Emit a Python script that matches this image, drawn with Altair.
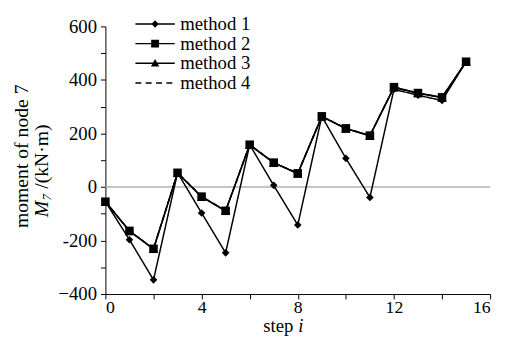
import altair as alt
import pandas as pd

steps = list(range(16))
methods = ["method 1", "method 2", "method 3", "method 4"]
m1 = [-55, -197, -347, 53, -97, -246, 158, 6, -142, 264, 107, -39, 365, 343, 323, 468]
m2 = [-55, -164, -231, 53, -36, -89, 158, 91, 51, 264, 219, 192, 373, 351, 335, 468]
m3 = [-55, -165, -232, 52, -37, -90, 157, 90, 50, 263, 218, 191, 372, 350, 334, 467]
m4 = [-55, -164, -231, 53, -36, -89, 158, 91, 51, 264, 219, 192, 373, 351, 335, 468]
series = [m1, m2, m3, m4]

y_ticks = [-400, -300, -200, -100, 0, 100, 200, 300, 400, 500, 600]
y_labels = ["\u2212400", "", "-200", "", "0", "", "200", "", "400", "", "600"]
x_ticks = [0, 2, 4, 6, 8, 10, 12, 14, 16]
x_labels = ["0", "", "4", "", "8", "", "12", "", "16"]

ytitle1 = "moment of node 7"
ytitle_m = "M"
ytitle_sub = "7"
ytitle_unit = "/(kN\u00b7m)"
xtitle_a = "step"
xtitle_b = "i"

FONT = "Liberation Serif"

rows = []
for name, vals in zip(methods, series):
    for s, v in zip(steps, vals):
        rows.append({"method": name, "step": s, "value": v})
df = pd.DataFrame(rows)


def label_expr(vals, labs):
    parts = " : ".join(f"datum.value == {v} ? '{l}'" for v, l in zip(vals, labs))
    return parts + " : ''"


xscale = alt.Scale(domain=[0, 16], nice=False)
yscale = alt.Scale(domain=[-400, 600], nice=False)

axis_style = dict(grid=False, tickSize=5, labelFont=FONT, labelColor="black",
                  domainColor="black", tickColor="black", title=None)
xaxis = alt.Axis(values=x_ticks, labelExpr=label_expr(x_ticks, x_labels), labelPadding=0,
                 labelFontSize=18, **axis_style)
yaxis = alt.Axis(values=y_ticks, labelExpr=label_expr(y_ticks, y_labels), labelPadding=4,
                 labelFontSize=19, **axis_style)

base = alt.Chart(df)

zero = alt.Chart(pd.DataFrame({"y": [0]})).mark_rule(color="#b0b0b0", strokeWidth=1.5).encode(
    y=alt.Y("y:Q", scale=yscale, axis=yaxis)
)

lines = base.mark_line(color="black", strokeWidth=1.5).encode(
    x=alt.X("step:Q", scale=xscale, axis=xaxis),
    y=alt.Y("value:Q", scale=yscale, axis=yaxis),
    detail="method:N",
    strokeDash=alt.StrokeDash("method:N", scale=alt.Scale(domain=methods,
                              range=[[1, 0], [1, 0], [1, 0], [5, 4]]), legend=None),
    order=alt.Order("step:Q"),
)

pts = base.transform_filter("datum.method != 'method 4'").mark_point(
    filled=True, color="black", opacity=1
).encode(
    x=alt.X("step:Q", scale=xscale, axis=xaxis),
    y=alt.Y("value:Q", scale=yscale, axis=yaxis),
    shape=alt.Shape("method:N", scale=alt.Scale(domain=methods[:3],
                    range=["diamond", "square", "triangle-up"]), legend=None),
    size=alt.Size("method:N", scale=alt.Scale(domain=methods[:3], range=[60, 90, 75]), legend=None),
)

# legend glyphs: line segment drawn as a thin filled bar plus the marker
bar = "M-4,-0.15H4V0.15H-4Z"
legend_paths = [
    bar + "M-0.75,0L0,-0.75L0.75,0L0,0.75Z",
    bar + "M-0.8,-0.8H0.8V0.8H-0.8Z",
    bar + "M-0.85,0.65L0,-0.85L0.85,0.65Z",
    "M-4,-0.15H-2.8V0.15H-4Z M-1.9,-0.15H-0.7V0.15H-1.9Z M0.2,-0.15H1.4V0.15H0.2Z M2.3,-0.15H3.5V0.15H2.3Z",
]

# legend-only layer: its points sit far outside the clipped plot area
leg = base.transform_calculate(hidden="-100000").mark_point(
    filled=True, color="black", clip=True, opacity=1
).encode(
    x=alt.X("step:Q", scale=xscale, axis=xaxis),
    y=alt.Y("hidden:Q", scale=yscale, axis=yaxis),
    shape=alt.Shape("method:N", scale=alt.Scale(domain=methods, range=legend_paths),
                    legend=alt.Legend(title=None, orient="none", legendX=26, legendY=-12,
                                      symbolSize=100, symbolOffset=15, labelOffset=16,
                                      symbolFillColor="black", symbolStrokeWidth=0,
                                      symbolOpacity=1,
                                      labelFont=FONT, labelFontSize=19, labelColor="black",
                                      rowPadding=0)),
)

tdf = pd.DataFrame({"t": [0]})
t1 = alt.Chart(tdf).mark_text(text=ytitle1, font=FONT, fontSize=20, angle=270,
                              align="center", baseline="middle", color="black").encode(
    x=alt.value(-85), y=alt.value(132))
tM = alt.Chart(tdf).mark_text(text=ytitle_m, font=FONT, fontSize=20, fontStyle="italic", angle=270,
                              align="left", baseline="middle", color="black").encode(
    x=alt.value(-64), y=alt.value(194))
tS = alt.Chart(tdf).mark_text(text=ytitle_sub, font=FONT, fontSize=13, fontStyle="italic", angle=270,
                              align="left", baseline="middle", color="black").encode(
    x=alt.value(-59), y=alt.value(177))
tU = alt.Chart(tdf).mark_text(text=ytitle_unit, font=FONT, fontSize=20, angle=270,
                              align="left", baseline="middle", color="black").encode(
    x=alt.value(-64), y=alt.value(165))
xa = alt.Chart(tdf).mark_text(text=xtitle_a, font=FONT, fontSize=19, align="right",
                              baseline="alphabetic", color="black").encode(
    x=alt.value(191), y=alt.value(311))
xb = alt.Chart(tdf).mark_text(text=xtitle_b, font=FONT, fontSize=19, fontStyle="italic", align="left",
                              baseline="alphabetic", color="black").encode(
    x=alt.value(196), y=alt.value(311))

chart = alt.layer(zero, lines, pts, leg, t1, tM, tS, tU, xa, xb).resolve_scale(
    shape="independent", size="independent"
).resolve_legend(shape="independent").properties(
    width=391, height=272,
    autosize=alt.AutoSizeParams(type="none"),
    padding={"left": 99, "top": 16, "right": 8, "bottom": 43},
    background="white",
).configure_view(stroke=None)

chart.save("out.html", embed_options={"renderer": "svg", "actions": False})
